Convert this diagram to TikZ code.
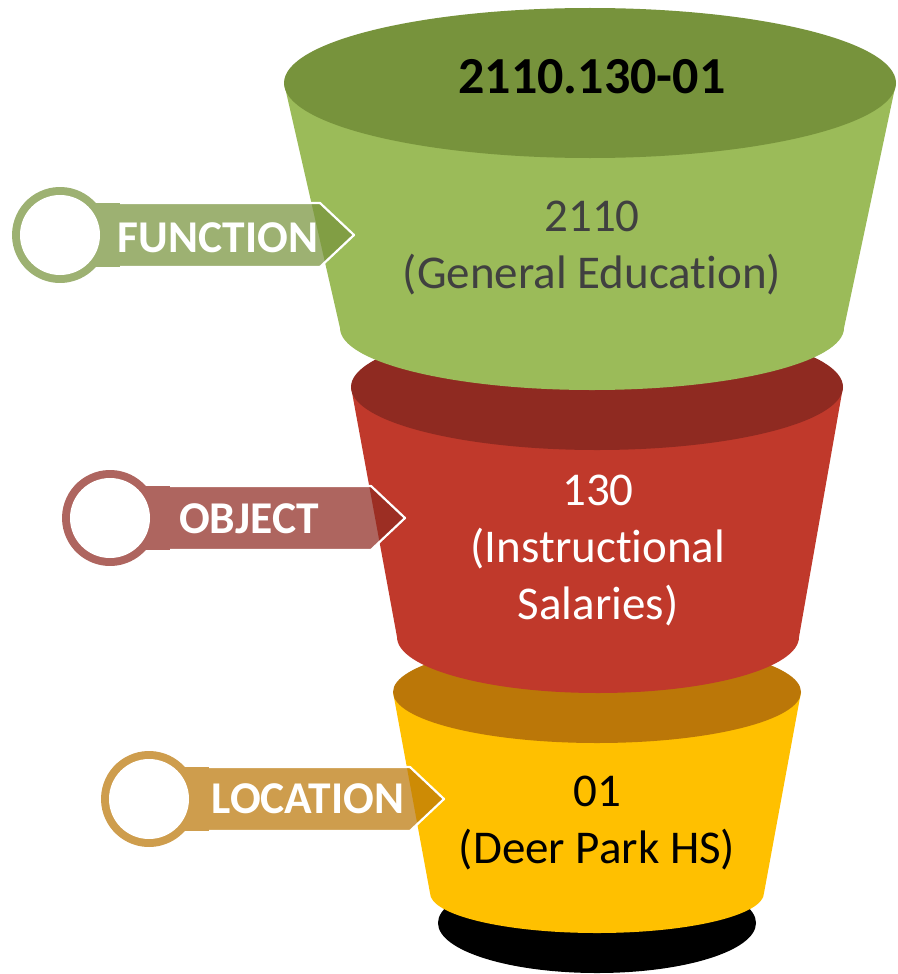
\documentclass[tikz,border=0pt]{standalone}
\usepackage{fontspec}
\setmainfont{Carlito}[Ligatures=NoCommon]
\definecolor{gbody}{HTML}{9BBB59}
\definecolor{gtop}{HTML}{77933C}
\definecolor{rbody}{HTML}{C0392B}
\definecolor{rtop}{HTML}{8F2A21}
\definecolor{ybody}{HTML}{FFC000}
\definecolor{ytop}{HTML}{BB7708}
\definecolor{gtext}{HTML}{404040}
\newcommand\funneltag[4]{% cx, cy, straight end x, colour
  \fill[#4, fill opacity=0.72] ({#1+35.8},{#2-32}) arc[start angle=-41.8, end angle=-318.2, radius=48]
     -- (#3,{#2+32}) -- ({#3+34},#2) -- (#3,{#2-32}) -- cycle;
  \fill[white] (#1,#2) circle[radius=40];
  \draw[white, line width=2.2pt, line join=round] ({#1+60},{#2-32}) -- (#3,{#2-32}) -- ({#3+34},#2) -- (#3,{#2+32}) -- ({#1+60},{#2+32});
}
\begin{document}
\begin{tikzpicture}[x=1pt,y=-1pt,
  bodytext/.style={align=center, inner sep=0pt, font=\fontsize{47}{57}\selectfont},
  taglabel/.style={anchor=base, inner sep=0pt, text=white, font=\fontsize{45.5}{54}\selectfont\bfseries}]
\useasboundingbox (0,0) rectangle (897,974);
% base shadow
\fill[black] (597,923) ellipse[x radius=159, y radius=50];
% yellow segment
\fill[ybody] (393,692) -- (430,893) arc[start angle=180, end angle=0, x radius=167, y radius=40] -- (801,692) -- cycle;
\fill[ytop] (597,692) ellipse[x radius=204, y radius=51];
% red segment
\fill[rbody] (351,387) -- (397,637) arc[start angle=180, end angle=0, x radius=201, y radius=56] -- (843,387) -- cycle;
\fill[rtop] (597,387) ellipse[x radius=246, y radius=63];
% green segment
\fill[gbody] (284,83) -- (340,328) arc[start angle=180, end angle=0, x radius=252, y radius=62] -- (844,328) -- (896,83) -- cycle;
\fill[gtop] (590,83) ellipse[x radius=306, y radius=75];
% texts
\node[anchor=base, inner sep=0pt, font=\fontsize{52}{62}\selectfont\bfseries] (code) at (592,93) {2110.130-01};
\node[bodytext, text=gtext] (fn) at (592,248) {2110\\(General Education)};
\node[bodytext, text=white] (ob) at (598,551) {130\\(Instructional\\Salaries)};
\node[bodytext, text=black] (lo) at (597,823) {01\\(Deer Park HS)};
% tags
\funneltag{60}{235}{320}{gtop}
\funneltag{110}{518}{371}{rtop}
\funneltag{149}{799}{410}{ytop}
\node[taglabel] (fnlab) at (218,252) {FUNCTION};
\node[taglabel] (oblab) at (249,533) {OBJECT};
\node[taglabel] (lolab) at (308,813) {LOCATION};
\end{tikzpicture}
\end{document}
